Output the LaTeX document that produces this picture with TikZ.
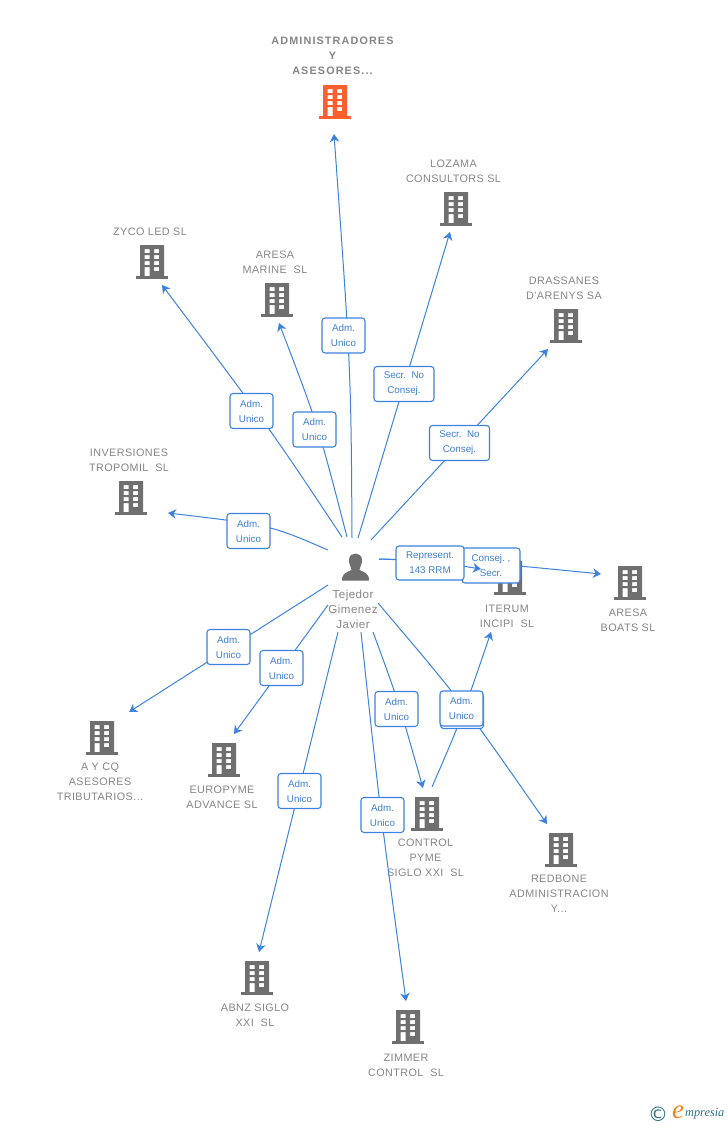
\documentclass[tikz,border=0pt]{standalone}
\usepackage{fontspec}
\setmainfont{Liberation Sans}
\newfontfamily\spaced[LetterSpace=4]{Liberation Sans}
\newfontfamily\spacedb[LetterSpace=10.5]{Liberation Sans}
\newfontfamily\logofont{Liberation Serif}
\newfontfamily\symfont{DejaVu Sans}
\usetikzlibrary{arrows.meta}
\definecolor{ebl}{HTML}{3C82E0}
\definecolor{etx}{HTML}{3E7FD6}
\definecolor{egr}{HTML}{6F6F6F}
\definecolor{elb}{HTML}{858585}
\definecolor{eor}{HTML}{FF5F2E}
\definecolor{eteal}{HTML}{2F6F86}
\definecolor{elogo}{HTML}{F5821F}
\tikzset{
  x=1pt,y=-1pt,
  edge/.style={draw=ebl,line width=1pt,-{Stealth[length=8pt,width=9.5pt,inset=2.5pt]}},
  rolebox/.style={draw=ebl,line width=1.1pt,fill=white,rounded corners=3pt,inner sep=0pt,
    minimum width=43pt,minimum height=35pt,align=center,text=etx,font=\fontsize{9.8}{15}\selectfont},
  namelabel/.style={align=center,text=elb,inner sep=0pt,font=\fontsize{10.8}{15}\spaced\selectfont},
  iconbox/.style={inner sep=0pt,minimum width=31pt,minimum height=34pt},
}
\newcommand{\bldg}[4]{%
  \node[iconbox] (#1) at (#2,#3) {};
  \begin{scope}[shift={(#1.center)}]
    \fill[#4,even odd rule] (-12,-17) rectangle (12,14)
      (-7.5,-13) rectangle (-2.5,-9) (2,-13) rectangle (7,-9)
      (-7.5,-7) rectangle (-2.5,-3) (2,-7) rectangle (7,-3)
      (-7.5,-1) rectangle (-2.5,3) (2,-1) rectangle (7,3)
      (-7.5,5) rectangle (-2.5,14) (2,5) rectangle (7,9);
    \fill[#4] (-16,14) rectangle (16,17);
  \end{scope}}
\begin{document}
\begin{tikzpicture}
\useasboundingbox (0,0) rectangle (728,1125);
% buildings
\bldg{admin}{335}{102}{eor}
\bldg{lozama}{456}{209}{egr}
\bldg{zyco}{152}{262}{egr}
\bldg{marine}{277}{300}{egr}
\bldg{drass}{566}{326}{egr}
\bldg{invers}{131}{498}{egr}
\bldg{iterum}{510}{578}{egr}
\bldg{boats}{630}{583}{egr}
\bldg{aycq}{102}{738}{egr}
\bldg{europ}{224}{760}{egr}
\bldg{control}{427}{814}{egr}
\bldg{redbone}{561}{850}{egr}
\bldg{abnz}{257}{978}{egr}
\bldg{zimmer}{408}{1027}{egr}
% person
\node[inner sep=0pt,minimum width=27pt,minimum height=28pt] (person) at (355.5,566.5) {};
\begin{scope}[shift={(person.center)}]
\fill[egr] (-13.5,14) .. controls (-13.5,6.5) and (-9,6) .. (-4,3.5)
  .. controls (-4,1.5) and (-7,-3) .. (-6.5,-7) .. controls (-6,-15) and (6,-15) .. (6.5,-7)
  .. controls (7,-3) and (4,1.5) .. (4,3.5) .. controls (9,6) and (13.5,6.5) .. (13.5,14) -- cycle;
\end{scope}
% name labels
\node[namelabel,font=\fontsize{10.8}{15}\spacedb\selectfont\bfseries] (tadmin) at (332.5,56) {ADMINISTRADORES\\Y\\ASESORES...};
\node[namelabel] (tlozama) at (453.5,171) {LOZAMA\\CONSULTORS SL};
\node[namelabel] (tzyco) at (150,232) {ZYCO LED SL};
\node[namelabel] (tmarine) at (275,262) {ARESA\\MARINE\ \ SL};
\node[namelabel] (tdrass) at (564,288) {DRASSANES\\D'ARENYS SA};
\node[namelabel] (tinvers) at (129,460) {INVERSIONES\\TROPOMIL\ \ SL};
\node[namelabel] (titerum) at (507,616) {ITERUM\\INCIPI\ \ SL};
\node[namelabel] (tboats) at (628,620) {ARESA\\BOATS SL};
\node[namelabel] (taycq) at (100,782) {A Y CQ\\ASESORES\\TRIBUTARIOS...};
\node[namelabel] (teurop) at (222,797) {EUROPYME\\ADVANCE SL};
\node[namelabel] (tcontrol) at (425.5,858) {CONTROL\\PYME\\SIGLO XXI\ \ SL};
\node[namelabel] (tredbone) at (559,894) {REDBONE\\ADMINISTRACION\\Y...};
\node[namelabel] (tabnz) at (255,1015) {ABNZ SIGLO\\XXI\ \ SL};
\node[namelabel] (tzimmer) at (406,1065) {ZIMMER\\CONTROL\ \ SL};
\node[namelabel,font=\fontsize{11.6}{15}\spaced\selectfont] (tperson) at (353,609) {Tejedor\\Gimenez\\Javier};
% connector free ends
\coordinate (sadmin) at (352,538); \coordinate (eadmin) at (334,134);
\coordinate (szyco) at (342,537); \coordinate (ezyco) at (162,285);
\coordinate (smarine) at (347,537); \coordinate (emarine) at (279,323);
\coordinate (slozama) at (358,538); \coordinate (elozama) at (450,232);
\coordinate (sdrass) at (371,540); \coordinate (edrass) at (548,349);
\coordinate (sinvers) at (328,550); \coordinate (einvers) at (168,513);
\coordinate (saycq) at (328,585); \coordinate (eaycq) at (129,712);
\coordinate (seurop) at (328,605); \coordinate (eeurop) at (234,734);
\coordinate (sabnz) at (338,632); \coordinate (eabnz) at (259,952);
\coordinate (szimmer) at (361,632); \coordinate (ezimmer) at (406,1001);
\coordinate (scontrol) at (373,632); \coordinate (econtrol) at (423,788);
\coordinate (siterum) at (432,787); \coordinate (eiterum) at (491,632);
\coordinate (sredbone) at (378,603); \coordinate (eredbone) at (547,824);
\coordinate (srep) at (379,559); \coordinate (erep) at (481,569);
\coordinate (eboats) at (601,574);
% connectors
\draw[edge] (sadmin) .. controls (351,370) .. (eadmin);
\draw[edge] (szyco) .. controls (271,430) .. (ezyco);
\draw[edge] (smarine) .. controls (318,425) .. (emarine);
\draw[edge] (slozama) -- (elozama);
\draw[edge] (sdrass) -- (edrass);
\draw[edge] (sinvers) .. controls (270,525) .. (einvers);
\draw[edge] (saycq) -- (eaycq);
\draw[edge] (seurop) -- (eeurop);
\draw[edge] (sabnz) -- (eabnz);
\draw[edge] (szimmer) .. controls (380,810) .. (ezimmer);
\draw[edge] (scontrol) .. controls (398,700) .. (econtrol);
\draw[edge] (sredbone) .. controls (462,702) .. (eredbone);
\draw[edge] (siterum) .. controls (461,720) .. (eiterum);
\draw[edge] (srep) .. controls (470,561) .. (eboats);
% role boxes
\node[rolebox] (ladmin) at (343.5,335.5) {Adm.\\Unico};
\node[rolebox] (lzyco) at (251.5,411) {Adm.\\Unico};
\node[rolebox] (lmarine) at (314.5,429.5) {Adm.\\Unico};
\node[rolebox,minimum width=60pt] (llozama) at (404,384) {Secr.\ \ No\\Consej.};
\node[rolebox,minimum width=60pt] (ldrass) at (459.5,443) {Secr.\ \ No\\Consej.};
\node[rolebox] (linvers) at (248.5,531) {Adm.\\Unico};
\node[rolebox] (laycq) at (228.5,647) {Adm.\\Unico};
\node[rolebox] (leurop) at (281.5,668) {Adm.\\Unico};
\node[rolebox] (labnz) at (299.5,791) {Adm.\\Unico};
\node[rolebox] (lzimmer) at (382.5,815) {Adm.\\Unico};
\node[rolebox] (lcontrol) at (396.5,709) {Adm.\\Unico};
\node[rolebox] (lredbone) at (462,711) {};
\node[rolebox] (literum) at (461.5,708.5) {Adm.\\Unico};
\node[rolebox,minimum width=58pt] (lboats) at (491,565.5) {Consej.\ ,\\Secr.};
\draw[edge] (srep) .. controls (430,561) .. (erep);
\node[rolebox,minimum width=68pt,minimum height=34pt] (lrep) at (430,563) {Represent.\\143 RRM};
% logo
\node[inner sep=0pt,text=eteal,font=\fontsize{20}{20}\symfont] (lgc) at (658,1114) {©};
\node[inner sep=0pt,text=elogo,font=\fontsize{27}{27}\logofont\itshape] (lge) at (678,1112) {e};
\node[inner sep=0pt,text=eteal,anchor=west,font=\fontsize{12.3}{14}\logofont\itshape] (lgm) at (685,1114) {mpresia};
\end{tikzpicture}
\end{document}
